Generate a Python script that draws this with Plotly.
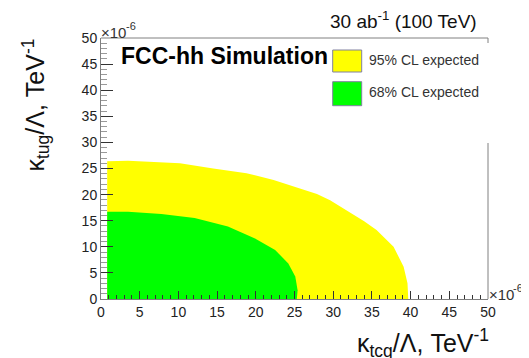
import plotly.graph_objects as go

# ---- data (units of 1e-6 TeV^-1) ----
yellow_x = [0.8, 0.8, 3.5, 7.8, 10.2, 14.5, 18.8, 22.3, 25.3, 27.9, 29.6, 32.2, 34.0, 35.6, 37.8, 39.1, 39.6, 39.7]
yellow_y = [0.0, 26.4, 26.5, 26.2, 26.0, 25.0, 24.1, 22.8, 21.4, 20.1, 18.9, 16.5, 14.9, 13.2, 10.0, 6.2, 3.0, 0.0]
green_x = [0.8, 0.8, 3.5, 7.8, 12.1, 16.4, 19.9, 22.5, 24.2, 25.1, 25.4, 25.3]
green_y = [0.0, 16.7, 16.7, 16.3, 15.5, 13.9, 11.6, 9.4, 6.8, 4.3, 1.7, 0.0]
legend_labels = ["95% CL expected", "68% CL expected"]
x_range = [0, 50]
y_range = [0, 50]

OFF = 8  # default page body margin
W, H = 529 - OFF, 358 - OFF
L, R, T, B = 101 - OFF, 488 - OFF, 38 - OFF, 299 - OFF
PW, PH = R - L, B - T
FONT = "Liberation Sans, Arial, sans-serif"

def px(x):
    return (x - OFF - L) / PW

def py(y):
    return (B - (y - OFF)) / PH

fig = go.Figure()
fig.add_trace(go.Scatter(x=yellow_x, y=yellow_y, fill="toself", fillcolor="#ffff00",
                         mode="lines", line=dict(width=0, color="#ffff00"), hoverinfo="skip",
                         name=legend_labels[0], showlegend=False))
fig.add_trace(go.Scatter(x=green_x, y=green_y, fill="toself", fillcolor="#00ff00",
                         mode="lines", line=dict(width=0, color="#00ff00"), hoverinfo="skip",
                         name=legend_labels[1], showlegend=False))

axis_common = dict(showgrid=False, zeroline=False, showline=True, linecolor="#808080", linewidth=1,
                   ticks="inside", tickcolor="#333333", tickwidth=1, dtick=5, tick0=0,
                   tickfont=dict(family=FONT, size=14, color="#222222"))

fig.update_xaxes(range=x_range, ticklen=8,
                 minor=dict(dtick=1, ticks="inside", ticklen=4, tickcolor="#333333"),
                 **axis_common)
fig.update_yaxes(range=y_range, ticklen=12,
                 minor=dict(dtick=1, ticks="inside", ticklen=6, tickcolor="#999999"),
                 **axis_common)

shapes = []
shapes.append(dict(type="line", xref="paper", yref="paper", x0=0, x1=1, y0=1, y1=1,
                   line=dict(color="#808080", width=1)))
shapes.append(dict(type="line", xref="paper", yref="paper", x0=1, x1=1, y0=1, y1=py(43),
                   line=dict(color="#808080", width=1)))
shapes.append(dict(type="line", xref="paper", yref="paper", x0=1, x1=1, y0=py(143), y1=0,
                   line=dict(color="#808080", width=1)))
for (y0, y1, col) in [(50, 72, "#ffff00"), (81.7, 105.7, "#00ff00")]:
    shapes.append(dict(type="rect", xref="paper", yref="paper", x0=px(332.7), x1=px(361.7),
                       y0=py(y1), y1=py(y0), fillcolor=col, line=dict(color="#8080a0", width=1)))

annotations = []
for lab, yc in zip(legend_labels, [60.5, 92]):
    annotations.append(dict(text=lab, xref="paper", yref="paper", x=px(367), y=py(yc),
                            xanchor="left", yanchor="middle", showarrow=False,
                            font=dict(family=FONT, size=14, color="#333333")))
annotations.append(dict(text="<b>FCC-hh Simulation</b>", xref="paper", yref="paper",
                        x=px(119), y=py(56), xanchor="left", yanchor="middle", showarrow=False,
                        font=dict(family=FONT, size=23, color="#000000")))
annotations.append(dict(text="30 ab<sup>-1</sup> (100 TeV)", xref="paper", yref="paper",
                        x=px(479), y=py(20), xanchor="right", yanchor="middle", showarrow=False,
                        font=dict(family=FONT, size=19, color="#111111")))
# exponent labels: "×10" at tick size, with a raised "-6"
annotations.append(dict(text="×10", xref="paper", yref="paper",
                        x=px(100), y=py(32), xanchor="left", yanchor="middle", showarrow=False,
                        borderpad=0, font=dict(family=FONT, size=15, color="#333333")))
annotations.append(dict(text="-6", xref="paper", yref="paper",
                        x=px(125), y=py(26), xanchor="left", yanchor="middle", showarrow=False,
                        borderpad=0, font=dict(family=FONT, size=11, color="#333333")))
annotations.append(dict(text="×10", xref="paper", yref="paper",
                        x=px(488), y=py(294), xanchor="left", yanchor="middle", showarrow=False,
                        borderpad=0, font=dict(family=FONT, size=15, color="#333333")))
annotations.append(dict(text="-6", xref="paper", yref="paper",
                        x=px(512), y=py(288), xanchor="left", yanchor="middle", showarrow=False,
                        borderpad=0, font=dict(family=FONT, size=11, color="#333333")))
annotations.append(dict(text="κ<sub>tcq</sub>/Λ, TeV<sup>-1</sup>", xref="paper", yref="paper",
                        x=px(491), y=py(343), xanchor="right", yanchor="middle", showarrow=False,
                        font=dict(family=FONT, size=25, color="#111111")))
annotations.append(dict(text="κ<sub>tug</sub>/Λ, TeV<sup>-1</sup>", xref="paper", yref="paper",
                        x=px(35), y=py(37), xanchor="center", yanchor="top", textangle=-90,
                        showarrow=False, font=dict(family=FONT, size=25, color="#111111")))

fig.update_layout(width=W, height=H, margin=dict(l=L, r=W - R, t=T, b=H - B, pad=0),
                  plot_bgcolor="white", paper_bgcolor="white", shapes=shapes,
                  annotations=annotations, showlegend=False)

fig.write_html("out.html")
